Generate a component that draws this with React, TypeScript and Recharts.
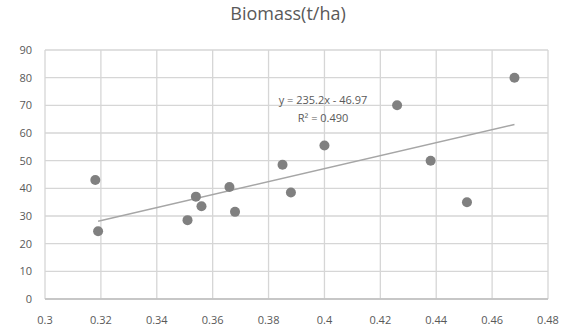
import React from 'react';
import {
    Scatter,
    XAxis,
    YAxis,
    CartesianGrid,
    Line,
    ComposedChart,
} from 'recharts';

// measured points: index vs biomass
const indexValues = [0.318, 0.319, 0.351, 0.354, 0.356, 0.366, 0.368, 0.385, 0.388, 0.4, 0.426, 0.438, 0.451, 0.468];
const biomassValues = [43, 24.5, 28.5, 37, 33.5, 40.5, 31.5, 48.5, 38.5, 55.5, 70, 50, 35, 80];

// linear trendline end points
const trendX = [0.319, 0.468];
const trendY = [28.1, 63.1];

const xTicks = [0.3, 0.32, 0.34, 0.36, 0.38, 0.4, 0.42, 0.44, 0.46, 0.48];
const yTicks = [0, 10, 20, 30, 40, 50, 60, 70, 80, 90];

const points = indexValues.map((x, i) => ({ x, y: biomassValues[i] }));
const trend = trendX.map((x, i) => ({ x, t: trendY[i] }));

const FONT = '"Open Sans", "Liberation Sans", sans-serif';
const textGrey = '#595959';

export default function App() {
    return (
        <div style={{ position: 'absolute', left: 0, top: 0, width: 572, height: 335, background: '#fff', fontFamily: FONT }}>
            <div style={{ position: 'absolute', top: 1, left: 0, width: 576, textAlign: 'center', fontSize: 18, color: textGrey, fontFamily: FONT }}>
                Biomass(t/ha)
            </div>
            <ComposedChart
                width={572}
                height={335}
                margin={{ top: 50, right: 24, bottom: 16, left: 1 }}
            >
                <CartesianGrid stroke="#d6d6d6" strokeWidth={1.3} horizontalValues={yTicks} verticalValues={xTicks} />
                <XAxis
                    type="number"
                    dataKey="x"
                    domain={[0.3, 0.48]}
                    ticks={xTicks}
                    height={20}
                    axisLine={{ stroke: '#bfbfbf', strokeWidth: 1.3 }}
                    tickLine={false}
                    tickMargin={11}
                    tick={{ fill: textGrey, fontSize: 11, fontFamily: FONT }}
                    tickFormatter={(v) => String(Math.round(v * 100) / 100)}
                    allowDataOverflow
                />
                <YAxis
                    type="number"
                    domain={[0, 90]}
                    ticks={yTicks}
                    width={44}
                    axisLine={false}
                    tickLine={false}
                    tick={{ fill: textGrey, fontSize: 11, fontFamily: FONT }}
                    tickMargin={7}
                />
                <Line
                    data={trend}
                    dataKey="t"
                    type="linear"
                    stroke="#a6a6a6"
                    strokeWidth={1.5}
                    dot={false}
                    isAnimationActive={false}
                />
                <Scatter
                    data={points}
                    dataKey="y"
                    fill="#808080"
                    shape={(p: any) => <circle cx={p.cx} cy={p.cy} r={5} fill="#808080" />}
                    isAnimationActive={false}
                />
            </ComposedChart>
            <div style={{ position: 'absolute', left: 263, top: 91, width: 120, textAlign: 'center', fontSize: 11, color: textGrey, lineHeight: '18px' }}>
                y = 235.2x - 46.97
                <br />
                R² = 0.490
            </div>
        </div>
    );
}
